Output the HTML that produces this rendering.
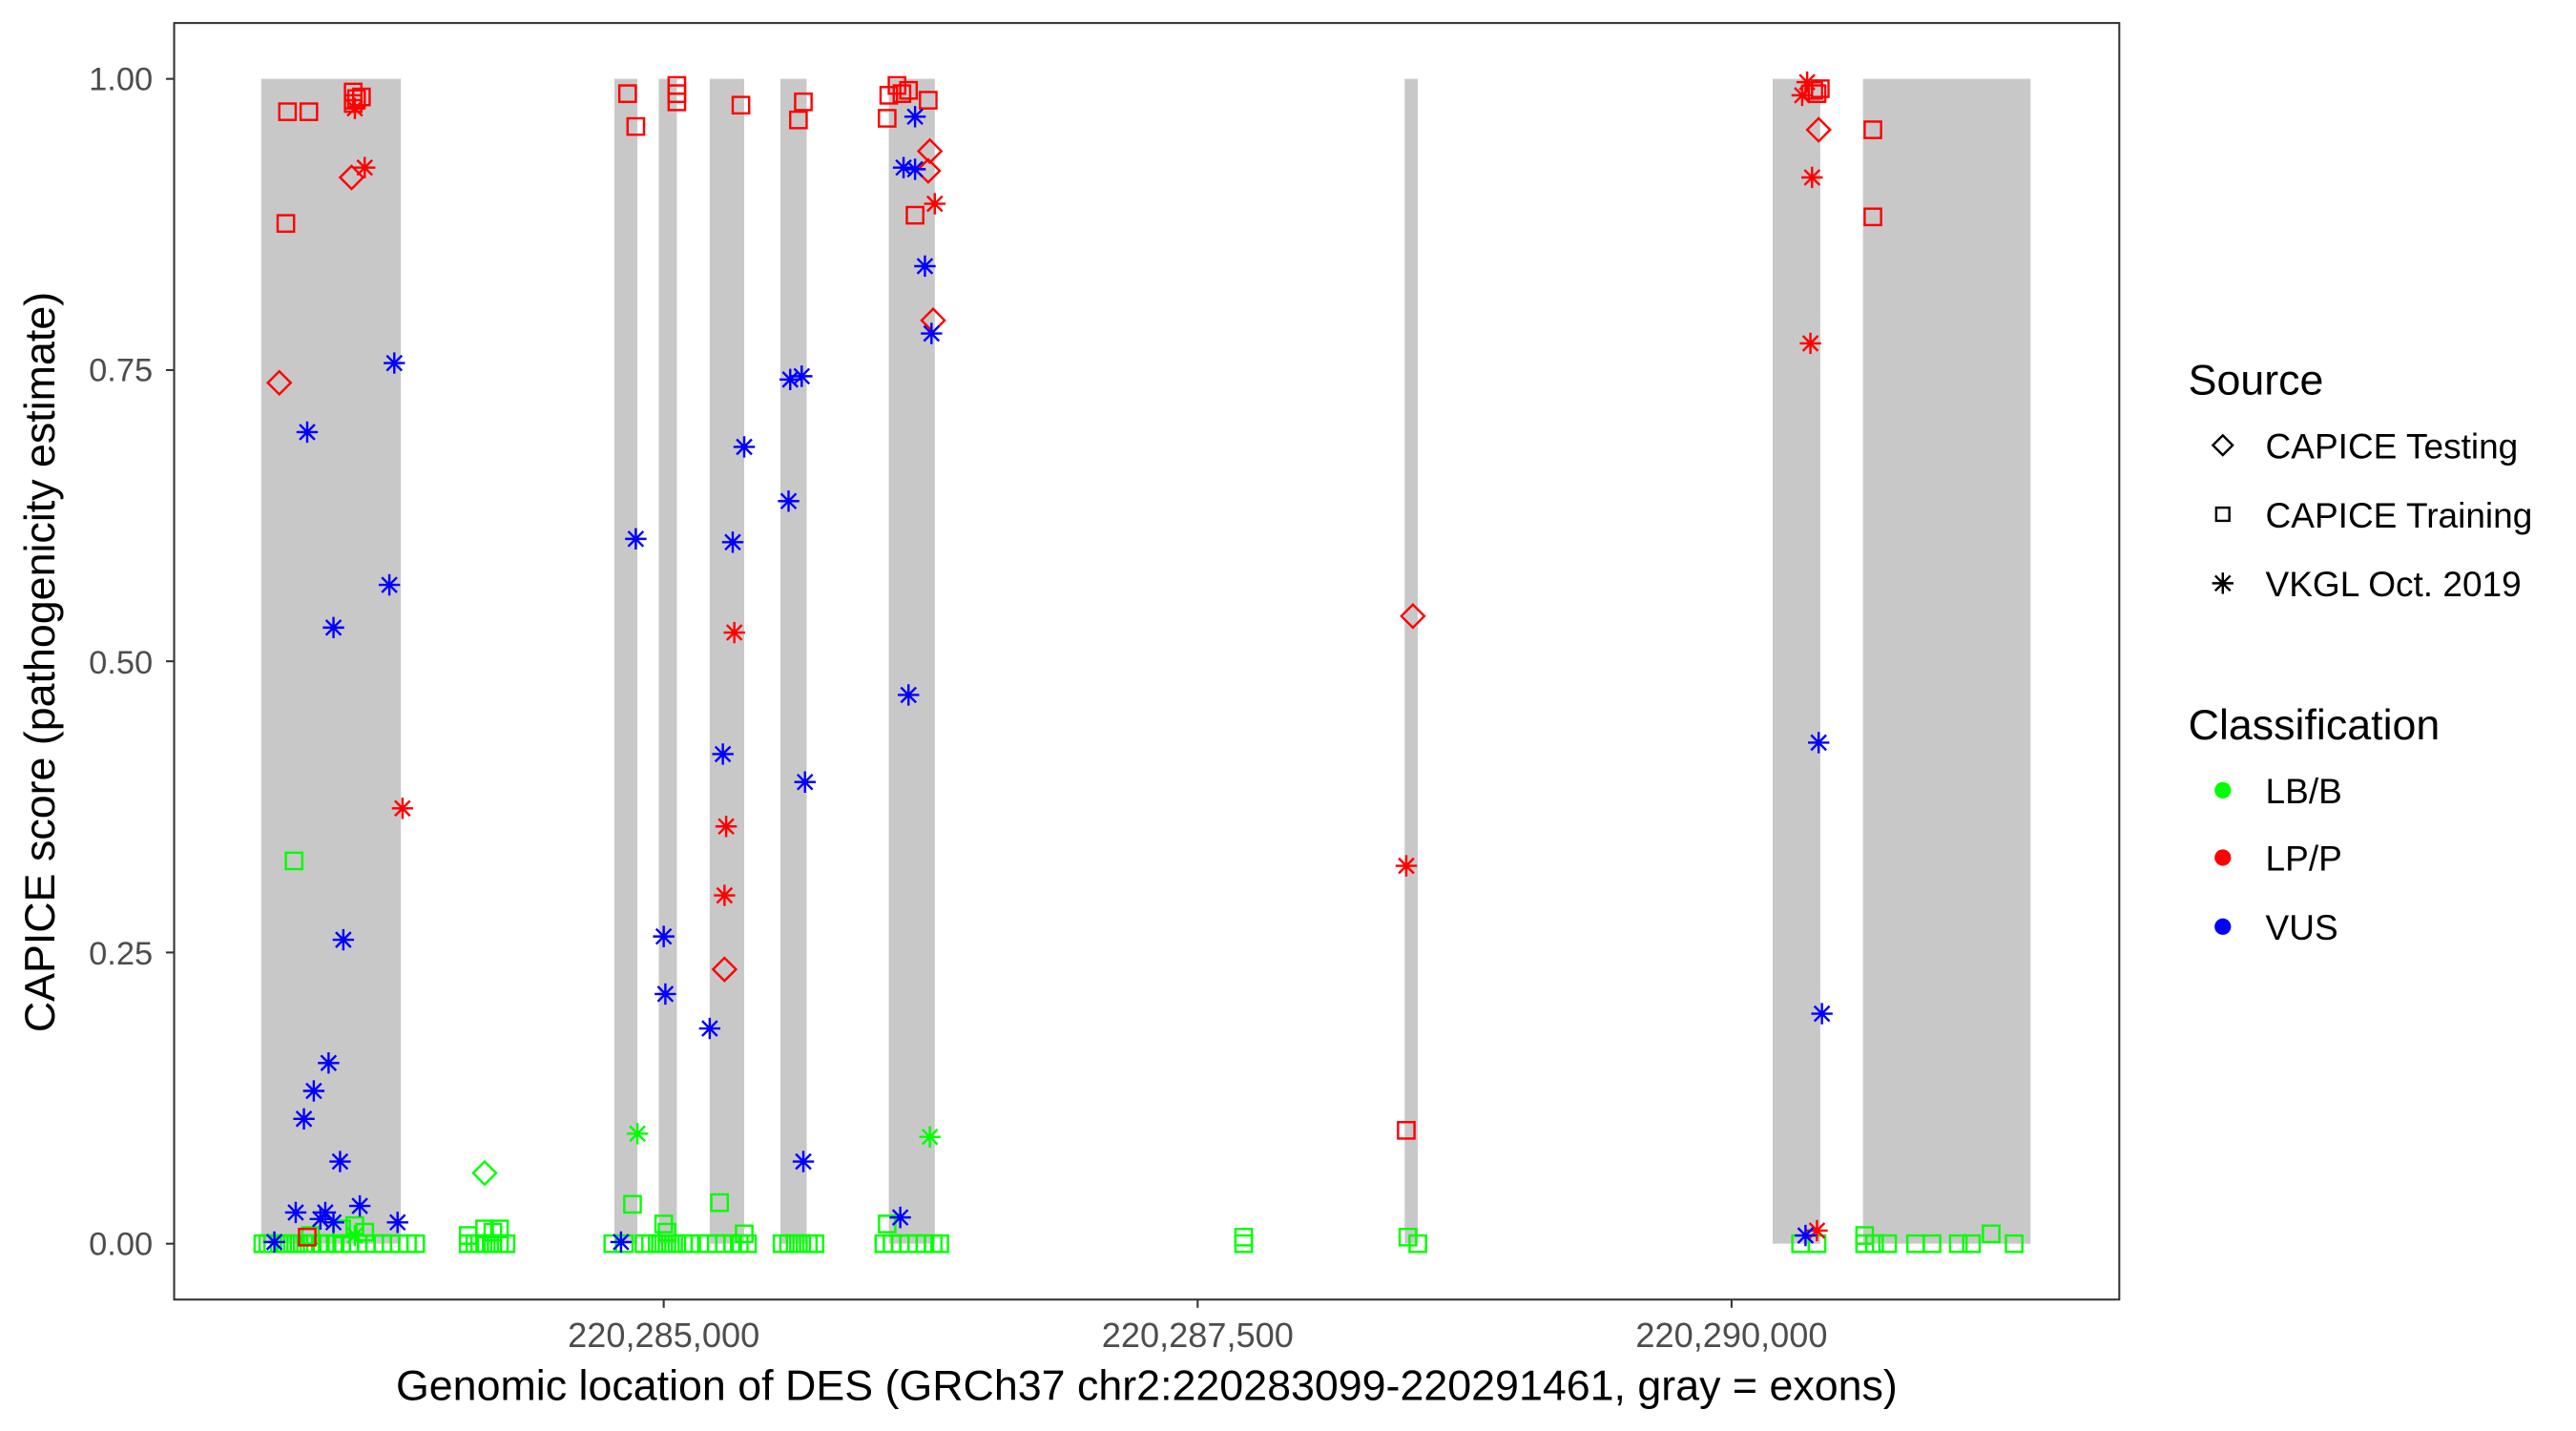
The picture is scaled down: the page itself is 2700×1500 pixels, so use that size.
<!DOCTYPE html>
<html><head><meta charset="utf-8"><style>html,body{margin:0;padding:0;background:#fff}svg{display:block}</style></head>
<body>
<svg id="s" width="2700" height="1500" viewBox="0 0 1568 871" preserveAspectRatio="none" xmlns="http://www.w3.org/2000/svg" font-family="Liberation Sans, Arial, sans-serif">
<rect x="0" y="0" width="1568" height="871" fill="#fff"/>
<g fill="#c8c8c8">
<rect x="159" y="48" width="85" height="709"/>
<rect x="374" y="48" width="14" height="709"/>
<rect x="401" y="48" width="11" height="709"/>
<rect x="432" y="48" width="21" height="709"/>
<rect x="475" y="48" width="16" height="709"/>
<rect x="541" y="48" width="28" height="709"/>
<rect x="855" y="48" width="8" height="709"/>
<rect x="1079" y="48" width="29" height="709"/>
<rect x="1134" y="48" width="102" height="709"/>
</g>
<g id="pts" fill="none" stroke-width="1.4"></g>
<rect x="106" y="14" width="1184" height="777" fill="none" stroke="#333" stroke-width="1.2"/>
<g stroke="#333" stroke-width="1.2">
<line x1="101" y1="48" x2="106" y2="48"/><line x1="101" y1="225.25" x2="106" y2="225.25"/>
<line x1="101" y1="402.5" x2="106" y2="402.5"/><line x1="101" y1="579.75" x2="106" y2="579.75"/>
<line x1="101" y1="757" x2="106" y2="757"/>
<line x1="404" y1="791" x2="404" y2="796"/><line x1="729" y1="791" x2="729" y2="796"/><line x1="1054" y1="791" x2="1054" y2="796"/>
</g>
<g fill="#4d4d4d" font-size="20" text-anchor="end">
<text x="93" y="55">1.00</text><text x="93" y="232">0.75</text><text x="93" y="410">0.50</text><text x="93" y="587">0.25</text><text x="93" y="764">0.00</text>
</g>
<g fill="#4d4d4d" font-size="21" text-anchor="middle">
<text x="404" y="820">220,285,000</text><text x="729" y="820">220,287,500</text><text x="1054" y="820">220,290,000</text>
</g>
<text x="698" y="852" font-size="26" text-anchor="middle" fill="#000">Genomic location of DES (GRCh37 chr2:220283099-220291461, gray = exons)</text>
<text transform="translate(33,403) rotate(-90)" font-size="26" text-anchor="middle" fill="#000">CAPICE score (pathogenicity estimate)</text>
<g fill="#000">
<text x="1332" y="240" font-size="26">Source</text>
<text x="1379" y="279" font-size="21.5">CAPICE Testing</text>
<text x="1379" y="321" font-size="21.5">CAPICE Training</text>
<text x="1379" y="363" font-size="21.5">VKGL Oct. 2019</text>
<text x="1332" y="450" font-size="26">Classification</text>
<text x="1379" y="489" font-size="21.5">LB/B</text>
<text x="1379" y="530" font-size="21.5">LP/P</text>
<text x="1379" y="572" font-size="21.5">VUS</text>
</g>
<g id="leg" fill="none" stroke="#000" stroke-width="1.4"></g>
<circle cx="1353" cy="481" r="5" fill="#00ff00"/>
<circle cx="1353" cy="522" r="5" fill="#ff0000"/>
<circle cx="1353" cy="564" r="5" fill="#0000ff"/>
</svg>
<script>
var NS="http://www.w3.org/2000/svg";
function mk(g,t,x,y,c){
 var e;
 if(t=="s"){e=document.createElementNS(NS,"rect");e.setAttribute("x",x-5);e.setAttribute("y",y-5);e.setAttribute("width",10);e.setAttribute("height",10);}
 else if(t=="d"){e=document.createElementNS(NS,"polygon");e.setAttribute("points",(x-7)+","+y+" "+x+","+(y-7)+" "+(x+7)+","+y+" "+x+","+(y+7));}
 else {e=document.createElementNS(NS,"path");var r=6.5,q=4.6;
  e.setAttribute("d","M"+(x-r)+" "+y+"H"+(x+r)+"M"+x+" "+(y-r)+"V"+(y+r)+"M"+(x-q)+" "+(y-q)+"L"+(x+q)+" "+(y+q)+"M"+(x-q)+" "+(y+q)+"L"+(x+q)+" "+(y-q));}
 e.setAttribute("stroke",c);g.appendChild(e);
}
var G="#00ff00",R="#ff0000",B="#0000ff";
var g=document.getElementById("pts");
var gx=[160,163,166,170,174,178,182,186,190,195,199,204,208,213,218,223,228,233,238,243,248,253,285,289,292,296,300,304,308,373,380,392,396,400,404,408,412,416,420,426,431,436,441,446,450,455,476,480,484,488,492,496,538,543,548,553,558,563,568,572,757,863,1096,1106,1135,1141,1149,1166,1176,1192,1200,1226];
gx.forEach(function(x){mk(g,"s",x,757,G);});
[[216,746],[222,750],[208,748],[189,752],[285,752],[295,748],[300,750],[304,748],[404,745],[406,750],[385,733],[438,732],[453,751],[540,745],[757,753],[857,753],[1135,752],[1212,751],[179,524]].forEach(function(p){mk(g,"s",p[0],p[1],G);});
mk(g,"d",295,714,G);mk(g,"a",388,690,G);mk(g,"a",566,692,G);mk(g,"a",216,752,G);
[[175,68],[188,68],[174,136],[215,56],[217,60],[220,59],[215,63],[187,753],[382,57],[387,77],[412,52],[412,57],[412,62],[451,64],[486,73],[489,62],[546,52],[541,58],[549,57],[553,55],[540,72],[557,131],[565,61],[856,688],[1104,55],[1108,54],[1106,57],[1140,79],[1140,132]].forEach(function(p){mk(g,"s",p[0],p[1],R);});
[[170,233],[214,108],[441,590],[566,92],[565,104],[568,195],[860,375],[1107,79]].forEach(function(p){mk(g,"d",p[0],p[1],R);});
[[216,66],[222,102],[245,492],[447,385],[442,503],[441,545],[569,124],[856,527],[1100,50],[1097,58],[1103,108],[1102,209],[1106,749]].forEach(function(p){mk(g,"a",p[0],p[1],R);});
[[240,221],[187,263],[237,356],[203,382],[209,572],[200,647],[191,664],[185,681],[207,707],[219,734],[180,738],[198,738],[203,744],[242,744],[167,756],[195,742],[387,328],[378,756],[404,570],[405,605],[432,626],[440,459],[446,330],[453,272],[481,231],[488,229],[480,305],[490,476],[489,707],[557,71],[550,102],[557,103],[563,162],[567,203],[553,423],[548,741],[1107,452],[1109,617],[1099,752]].forEach(function(p){mk(g,"a",p[0],p[1],B);});
var l=document.getElementById("leg");
mk(l,"d",1353,271,"#000");
var r=document.createElementNS(NS,"rect");r.setAttribute("x",1349);r.setAttribute("y",309);r.setAttribute("width",8);r.setAttribute("height",8);r.setAttribute("stroke","#000");l.appendChild(r);
mk(l,"a",1353,355,"#000");
l.firstChild.setAttribute("points","1347,271 1353,265 1359,271 1353,277");
</script>
</body></html>
